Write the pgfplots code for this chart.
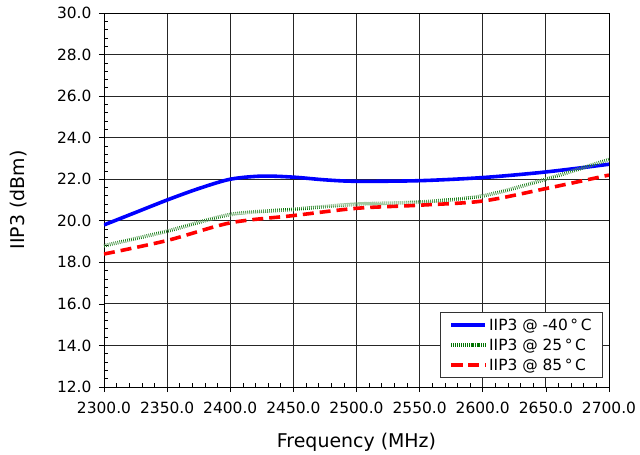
\documentclass[border=0pt]{standalone}
\usepackage{pgfplots}
\pgfplotsset{compat=1.18}
\usepackage{fontspec}
\setmainfont{DejaVu Sans}
\begin{document}
\begin{tikzpicture}
\begin{axis}[
  at={(0,0)}, anchor=south west,
  width=505bp, height=374bp, scale only axis,
  xmin=2300, xmax=2700, ymin=12, ymax=30,
  xtick={2300,2350,...,2700}, ytick={12,14,...,30},
  minor x tick num=4, minor y tick num=4,
  tick pos=left,
  tick align=inside, major tick length=5bp, minor tick length=4bp,
  major x tick style={yshift=-5bp}, major y tick style={xshift=-5bp},
  grid=major, major grid style={black!85, line width=0.9pt},
  axis line style={black, line width=0.9pt},
  tick style={black, line width=0.7pt},
  every tick label/.style={font=\fontsize{15.5}{18}\selectfont},
  /pgf/number format/assume math mode=true,
  x tick label style={yshift=-12bp, /pgf/number format/.cd, fixed, fixed zerofill, precision=1, 1000 sep={}},
  y tick label style={xshift=-9bp, /pgf/number format/.cd, fixed, fixed zerofill, precision=1},
  xlabel={Frequency (MHz)}, ylabel={IIP3 (dBm)},
  every axis x label/.style={at={(axis description cs:0.5,-0.147)}, anchor=center, font=\fontsize{19}{22}\selectfont},
  every axis y label/.style={at={(axis description cs:-0.17,0.5)}, anchor=center, rotate=90, font=\fontsize{19}{22}\selectfont},
  legend style={at={(0.988,0.024)}, anchor=south east, font=\fontsize{15.5}{18}\selectfont,
    draw=black!80, line width=0.8pt, row sep=3bp, inner xsep=9bp, inner ysep=4bp},
  legend cell align=left,
  legend image code/.code={\draw[#1] plot coordinates {(0cm,0cm) (1.2cm,0cm)};},
]
\addplot[blue, line width=3.6pt, smooth] coordinates {
 (2300,19.8) (2325,20.4) (2350,21.0) (2375,21.55) (2400,22.0) (2425,22.15) (2450,22.1)
 (2475,21.97) (2500,21.9) (2550,21.93) (2600,22.08) (2650,22.35) (2700,22.72)};
\addlegendentry{IIP3 @ -40\,°\,C}
\addplot[preaction={draw=black!8, line width=3.6pt}, green!45!black, line width=3.6pt,
  dash pattern=on 0.6pt off 1.4pt, smooth] coordinates {
 (2300,18.8) (2350,19.5) (2400,20.3) (2450,20.55) (2500,20.8) (2550,20.9)
 (2600,21.2) (2650,22.0) (2700,22.95)};
\addlegendentry{IIP3 @ 25\,°\,C}
\addplot[red, line width=3.6pt, dash pattern=on 11pt off 6pt, smooth] coordinates {
 (2300,18.4) (2350,19.05) (2400,19.9) (2450,20.25) (2500,20.6) (2550,20.75)
 (2600,20.95) (2650,21.55) (2700,22.2)};
\addlegendentry{IIP3 @ 85\,°\,C}
\end{axis}
\useasboundingbox (-104bp,-66bp) rectangle (536bp,387bp);
\end{tikzpicture}
\end{document}
